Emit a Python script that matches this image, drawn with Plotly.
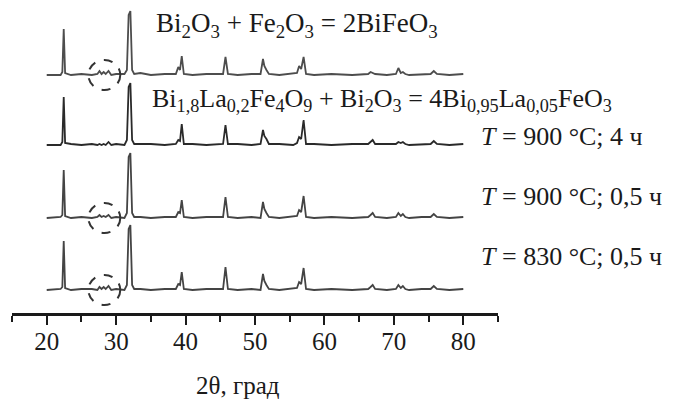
import plotly.graph_objects as go

# 2theta grid (degrees)
two_theta = [20.0, 22.0, 22.25, 22.45, 22.65, 23.5, 25.0, 26.5, 27.3, 27.6,
             27.9, 28.2, 28.5, 28.9, 29.3, 30.0, 31.2, 31.55, 31.8, 32.05,
             32.3, 32.6, 33.5, 35.0, 37.0, 38.6, 38.95, 39.2, 39.45, 39.75,
             41.0, 43.0, 45.4, 45.75, 46.1, 47.5, 49.5, 50.8, 51.15, 51.35,
             51.65, 52.0, 53.5, 55.5, 56.05, 56.35, 56.65, 57.0, 57.35, 58.5,
             61.0, 64.0, 66.3, 66.65, 66.95, 67.3, 69.0, 70.3, 70.65, 71.0,
             71.3, 71.65, 72.2, 74.0, 75.3, 75.75, 76.2, 78.0, 80.0]

# intensities (arb. units), relative to each pattern's baseline
int_bi2o3_fe2o3 = [0, 0, 3, 46, 2, 0, 1, 0, 1, 4,
                   1, 3, 1, 4, 0, 1, 1, 5, 60, 64,
                   5, 1, 2, 0, 1, 1, 8, 5, 19, 1,
                   0, 1, 1, 18, 1, 0, 1, 1, 16, 9,
                   5, 1, 0, 1, 2, 9, 6, 18, 1, 0,
                   1, 0, 1, 3, 2, 1, 0, 1, 7, 2,
                   3, 1, 0, 1, 1, 4, 1, 0, 1]
int_900_4h = [0, 0, 3, 48, 2, 1, 0, 1, 0, 1,
              0, 1, 0, 3, 0, 1, 0, 5, 58, 62,
              5, 1, 1, 1, 0, 1, 5, 4, 21, 1,
              1, 0, 1, 20, 1, 1, 0, 1, 15, 9,
              6, 1, 1, 0, 2, 8, 6, 25, 1, 1,
              0, 1, 1, 3, 5, 1, 1, 1, 3, 2,
              3, 1, 0, 1, 1, 4, 1, 0, 1]
int_900_05h = [0, 1, 3, 48, 2, 0, 1, 0, 1, 3,
               1, 2, 1, 3, 0, 1, 0, 5, 61, 65,
               5, 1, 1, 0, 1, 1, 6, 5, 18, 1,
               0, 1, 1, 21, 1, 0, 1, 0, 16, 9,
               5, 1, 0, 1, 2, 8, 6, 22, 1, 0,
               1, 0, 1, 3, 5, 1, 0, 1, 5, 2,
               4, 1, 0, 1, 1, 4, 1, 0, 1]
int_830_05h = [0, 1, 3, 49, 2, 0, 1, 1, 0, 3,
               1, 3, 1, 4, 0, 1, 0, 5, 61, 65,
               5, 1, 1, 0, 1, 1, 6, 5, 18, 1,
               0, 1, 1, 23, 1, 0, 1, 0, 16, 9,
               5, 1, 0, 1, 2, 8, 6, 22, 1, 0,
               1, 0, 1, 3, 5, 1, 0, 1, 5, 2,
               4, 1, 0, 1, 1, 4, 1, 0, 1]

series = [int_bi2o3_fe2o3, int_900_4h, int_900_05h, int_830_05h]
offsets = [238, 168, 95, 23]
colors = ["#4d4d4d", "#2a2a2a", "#444444", "#444444"]

tick_values = [20, 30, 40, 50, 60, 70, 80]

SERIF = "Liberation Serif"

fig = go.Figure()
for vals, off, col in zip(series, offsets, colors):
    fig.add_trace(go.Scatter(x=two_theta, y=[v + off for v in vals], mode="lines",
                             line=dict(color=col, width=1.8), showlegend=False,
                             hoverinfo="skip"))

# dashed circles around impurity reflections
for off in [offsets[0], offsets[2], offsets[3]]:
    fig.add_shape(type="circle", xref="x", yref="y", x0=26.0, x1=30.6,
                  y0=off - 15, y1=off + 15,
                  line=dict(color="#333333", width=2, dash="dash"))

ann_font = dict(family=SERIF, size=26, color="#1a1a1a")
fig.add_annotation(x=35.5, y=288, xref="x", yref="y", xanchor="left", yanchor="middle",
                   text="Bi<sub>2</sub>O<sub>3</sub> + Fe<sub>2</sub>O<sub>3</sub> = 2BiFeO<sub>3</sub>",
                   showarrow=False, font=dict(family=SERIF, size=27, color="#1a1a1a"))
fig.add_annotation(x=34.9, y=213, xref="x", yref="y", xanchor="left", yanchor="middle",
                   text="Bi<sub>1,8</sub>La<sub>0,2</sub>Fe<sub>4</sub>O<sub>9</sub> + Bi<sub>2</sub>O<sub>3</sub> = 4Bi<sub>0,95</sub>La<sub>0,05</sub>FeO<sub>3</sub>",
                   showarrow=False, font=ann_font)
labels = ["<i>T</i> = 900 °C; 4 ч", "<i>T</i> = 900 °C; 0,5 ч", "<i>T</i> = 830 °C; 0,5 ч"]
for lab, yy in zip(labels, [177, 117, 57]):
    fig.add_annotation(x=82.2, y=yy, xref="x", yref="y", xanchor="left", yanchor="middle",
                       text=lab, showarrow=False, font=ann_font)
fig.add_annotation(x=(238 - 12) / 486, y=(313 - 385) / 308, xref="paper", yref="paper",
                   xanchor="center", yanchor="middle",
                   text="2θ, град", showarrow=False,
                   font=dict(family=SERIF, size=25, color="#1a1a1a"))

fig.update_layout(
    width=673, height=400,
    margin=dict(l=12, r=175, t=5, b=87),
    paper_bgcolor="white", plot_bgcolor="white",
    font=dict(family=SERIF),
    xaxis=dict(range=[15, 85], tickvals=tick_values, showgrid=False, zeroline=False,
               showline=True, linecolor="#1a1a1a", linewidth=2.5,
               ticks="outside", ticklen=9, tickwidth=2, tickcolor="#1a1a1a",
               ticklabelstandoff=-5,
               tickfont=dict(family=SERIF, size=25, color="#1a1a1a"),
               minor=dict(dtick=5, tick0=15, ticks="outside", ticklen=6, tickwidth=2,
                          tickcolor="#1a1a1a", showgrid=False)),
    yaxis=dict(range=[0, 308], visible=False, showgrid=False, zeroline=False),
)

fig.write_html("out.html")
